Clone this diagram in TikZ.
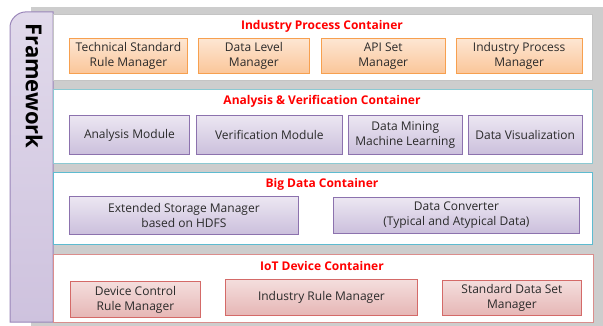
\documentclass[tikz,border=0pt]{standalone}
\usepackage{fontspec}
\setmainfont{Open Sans}
\usetikzlibrary{positioning}
\definecolor{cBack}{HTML}{CDCDCD}
\definecolor{cFrame}{HTML}{9A86B9}
\definecolor{cFrameTop}{HTML}{E1DAEB}
\definecolor{cFrameBot}{HTML}{CEC2DE}
\definecolor{cOrg}{HTML}{F7A04F}
\definecolor{cOrgTop}{HTML}{FDE6D3}
\definecolor{cOrgBot}{HTML}{FBC699}
\definecolor{cPur}{HTML}{8C72AE}
\definecolor{cPurTop}{HTML}{ECE7F2}
\definecolor{cPurBot}{HTML}{CBBFDC}
\definecolor{cRed}{HTML}{D46A68}
\definecolor{cRedTop}{HTML}{F4DEDD}
\definecolor{cRedBot}{HTML}{E6B6B5}
\definecolor{cIndLine}{HTML}{C4C4C4}
\definecolor{cAnaLine}{HTML}{8CC9D2}
\definecolor{cBigLine}{HTML}{5DBBD0}
\definecolor{cIotLine}{HTML}{DA8D8C}
\definecolor{cText}{HTML}{2A2A2A}
\tikzset{
  blk/.style={draw, line width=0.9pt, align=center, inner sep=0pt, text=cText,
              anchor=north west, font=\fontsize{12}{15}\selectfont},
  orgb/.style={blk, draw=cOrg, top color=cOrgTop, bottom color=cOrgBot},
  purb/.style={blk, draw=cPur, top color=cPurTop, bottom color=cPurBot},
  redb/.style={blk, draw=cRed, top color=cRedTop, bottom color=cRedBot},
  cont/.style={draw, line width=1pt, fill=white, anchor=north west,
               inner sep=0pt, minimum width=539pt},
  ttl/.style={font=\fontsize{12}{14}\selectfont\bfseries, text=red},
}

\begin{document}
\begin{tikzpicture}[x=1pt, y=-1pt]
  \useasboundingbox (0,0) rectangle (603,326);
  \fill[cBack] (31,7) rectangle (603,326);

  % framework tab on the left
  \draw[cFrame, line width=1pt, top color=cFrameTop, bottom color=cFrameBot]
    (10,322) -- (10,27) .. controls (10,18.7) and (18.3,12) .. (25,12)
    -- (53,12) -- (53,322) -- cycle;
  \node[rotate=-90, font=\fontsize{22}{24}\selectfont\bfseries] (fw) at (34,86) {Framework};

  % containers
  \node[cont, draw=cIndLine, minimum height=66pt] (ind) at (53,14) {};
  \node[cont, draw=cAnaLine, minimum height=74pt] (ana) at (53,89) {};
  \node[cont, draw=cBigLine, minimum height=72pt] (big) at (53,172) {};
  \node[cont, draw=cIotLine, minimum height=68pt, minimum width=540pt] (iot) at (53,254) {};

  \node[ttl] (tind) at (322,26) {Industry Process Container};
  \node[ttl] (tana) at (322,101) {Analysis \& Verification Container};
  \node[ttl] (tbig) at (322,184) {Big Data Container};
  \node[ttl] (tiot) at (322,266) {IoT Device Container};

  % industry process row
  \node[orgb, minimum width=118pt, minimum height=35pt] (tsr) at (69,38)
    {Technical Standard\\Rule Manager};
  \node[orgb, minimum width=111pt, minimum height=35pt, right=10pt of tsr.north east, anchor=north west] (dlm)
    {Data Level\\Manager};
  \node[orgb, minimum width=124pt, minimum height=35pt, right=11pt of dlm.north east, anchor=north west] (api)
    {API Set\\Manager};
  \node[orgb, minimum width=126pt, minimum height=35pt, right=10pt of api.north east, anchor=north west] (ipm)
    {Industry Process\\Manager};

  % analysis row
  \node[purb, minimum width=120pt, minimum height=39pt] (anm) at (69,115)
    {Analysis Module};
  \node[purb, minimum width=146pt, minimum height=39pt, right=6pt of anm.north east, anchor=north west] (vem)
    {Verification Module};
  \node[purb, minimum width=114pt, minimum height=39pt, right=5pt of vem.north east, anchor=north west] (dmm)
    {Data Mining\\Machine Learning};
  \node[purb, minimum width=114pt, minimum height=39pt, right=5pt of dmm.north east, anchor=north west] (dvz)
    {Data Visualization};

  % big data row
  \node[purb, minimum width=229pt, minimum height=38pt] (esm) at (69,196)
    {Extended Storage Manager\\based on HDFS};
  \node[purb, minimum width=246pt, minimum height=36pt] (dcv) at (333,197)
    {Data Converter\\(Typical and Atypical Data)};

  % iot row
  \node[redb, minimum width=130pt, minimum height=36pt] (dcr) at (70,281)
    {Device Control\\Rule Manager};
  \node[redb, minimum width=192pt, minimum height=36pt] (irm) at (225,279)
    {Industry Rule Manager};
  \node[redb, minimum width=139pt, minimum height=35pt] (sds) at (442,280)
    {Standard Data Set\\Manager};
\end{tikzpicture}
\end{document}
